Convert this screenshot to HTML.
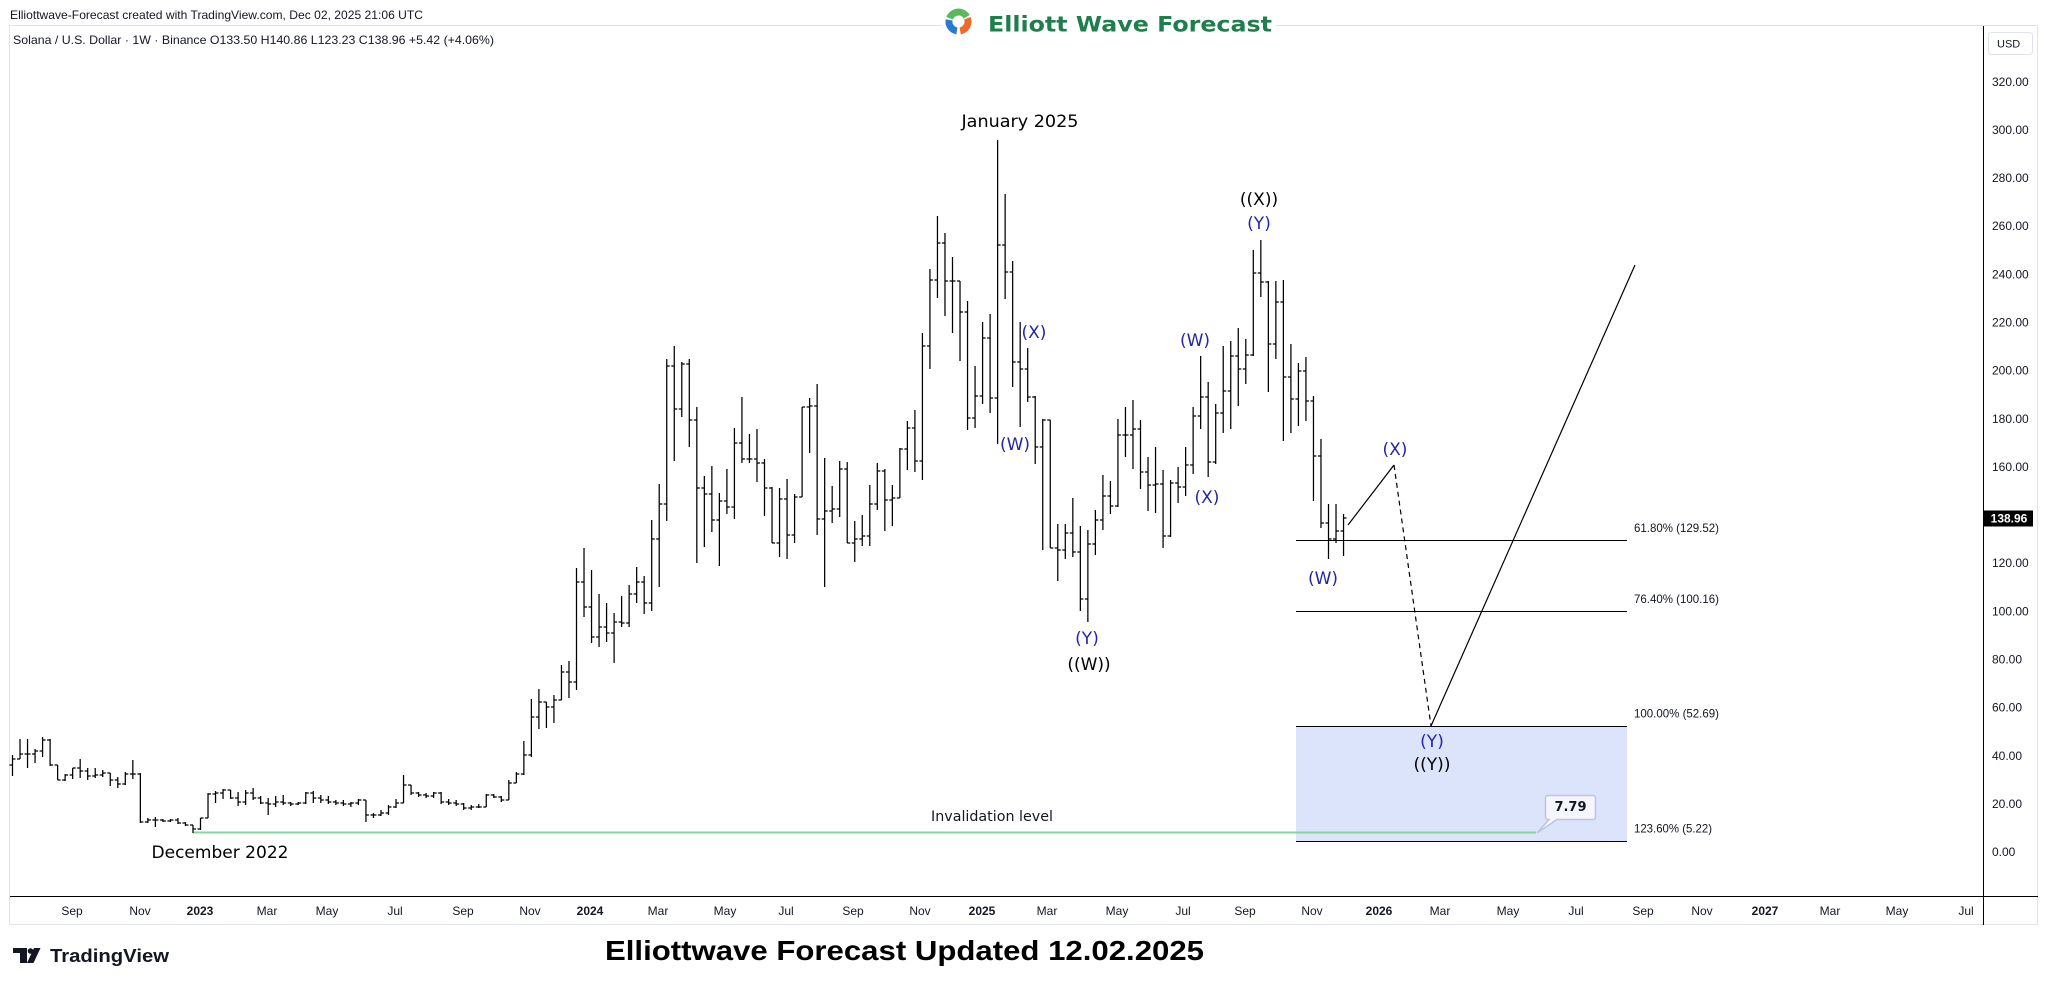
<!DOCTYPE html>
<html><head><meta charset="utf-8"><style>
html,body{margin:0;padding:0;background:#fff;}
svg{display:block;}
.pl{font-family:"Liberation Sans",sans-serif;font-size:12px;fill:#131722;}
.tl{font-family:"Liberation Sans",sans-serif;font-size:12px;fill:#131722;text-anchor:middle;}
.ty{font-weight:bold;}
.wv{font-family:"DejaVu Sans",sans-serif;font-size:17px;text-anchor:middle;dominant-baseline:central;}
.bl{fill:#2226a8;}
.bk{fill:#000;}
.fb{font-family:"Liberation Sans",sans-serif;font-size:12px;fill:#131722;dominant-baseline:central;}
</style></head><body>
<svg width="2048" height="985" viewBox="0 0 2048 985" xmlns="http://www.w3.org/2000/svg">
<rect x="0" y="0" width="2048" height="985" fill="#fff"/>
<!-- pane border -->
<rect x="9.5" y="25.5" width="2028" height="899" fill="none" stroke="#e0e3eb" stroke-width="1"/>
<!-- header texts -->
<text x="10" y="19" font-family="Liberation Sans, sans-serif" font-size="12" fill="#131722" textLength="413" lengthAdjust="spacingAndGlyphs">Elliottwave-Forecast created with TradingView.com, Dec 02, 2025 21:06 UTC</text>
<text x="13" y="44" font-family="Liberation Sans, sans-serif" font-size="12" fill="#131722" textLength="481" lengthAdjust="spacingAndGlyphs">Solana / U.S. Dollar · 1W · Binance  O133.50  H140.86  L123.23  C138.96  +5.42 (+4.06%)</text>
<!-- top logo -->
<rect x="942" y="4" width="334" height="38" fill="#fff"/>
<path d="M949.6 18.25A9.5 9.5 0 0 1 966.7 16.75" fill="none" stroke="#5cb85c" stroke-width="7"/>
<path d="M967.4 18.25A9.5 9.5 0 0 1 960.2 30.9" fill="none" stroke="#ee6a2a" stroke-width="7"/>
<path d="M956.9 30.9A9.5 9.5 0 0 1 949.1 19.85" fill="none" stroke="#2a7bd0" stroke-width="7"/>
<text x="988" y="31.5" font-family="DejaVu Sans, sans-serif" font-weight="bold" font-size="21" fill="#1e7e4e" textLength="284" lengthAdjust="spacingAndGlyphs">Elliott Wave Forecast</text>

<!-- axes -->
<line x1="1983.5" y1="26" x2="1983.5" y2="925" stroke="#000" stroke-width="1"/>
<line x1="10" y1="896.5" x2="2038" y2="896.5" stroke="#000" stroke-width="1"/>

<!-- price axis labels -->
<rect x="1988.5" y="32.5" width="44" height="22" rx="3" fill="#fff" stroke="#e0e3eb"/>
<text x="1997" y="47.5" font-family="Liberation Sans, sans-serif" font-size="11" fill="#131722">USD</text>
<g class="pl" dominant-baseline="central">
<text x="1992" y="82">320.00</text>
<text x="1992" y="130">300.00</text>
<text x="1992" y="178">280.00</text>
<text x="1992" y="226">260.00</text>
<text x="1992" y="274.5">240.00</text>
<text x="1992" y="322.5">220.00</text>
<text x="1992" y="370.5">200.00</text>
<text x="1992" y="419">180.00</text>
<text x="1992" y="467">160.00</text>
<text x="1992" y="563">120.00</text>
<text x="1992" y="611.5">100.00</text>
<text x="1992" y="659.5">80.00</text>
<text x="1992" y="707.5">60.00</text>
<text x="1992" y="756">40.00</text>
<text x="1992" y="804">20.00</text>
<text x="1992" y="852">0.00</text>
</g>
<rect x="1984" y="510.5" width="49" height="16" fill="#000"/>
<text x="2009" y="518.5" font-family="Liberation Sans, sans-serif" font-size="12" font-weight="bold" fill="#fff" text-anchor="middle" dominant-baseline="central">138.96</text>

<!-- time axis labels -->
<g class="tl" dominant-baseline="central">
<text x="72" y="911">Sep</text>
<text x="140" y="911">Nov</text>
<text x="200" y="911" class="ty">2023</text>
<text x="267" y="911">Mar</text>
<text x="327" y="911">May</text>
<text x="395" y="911">Jul</text>
<text x="463" y="911">Sep</text>
<text x="530" y="911">Nov</text>
<text x="590" y="911" class="ty">2024</text>
<text x="658" y="911">Mar</text>
<text x="725" y="911">May</text>
<text x="786" y="911">Jul</text>
<text x="853" y="911">Sep</text>
<text x="920" y="911">Nov</text>
<text x="982" y="911" class="ty">2025</text>
<text x="1047" y="911">Mar</text>
<text x="1117" y="911">May</text>
<text x="1183" y="911">Jul</text>
<text x="1245" y="911">Sep</text>
<text x="1312" y="911">Nov</text>
<text x="1379" y="911" class="ty">2026</text>
<text x="1440" y="911">Mar</text>
<text x="1508" y="911">May</text>
<text x="1576" y="911">Jul</text>
<text x="1643" y="911">Sep</text>
<text x="1702" y="911">Nov</text>
<text x="1765" y="911" class="ty">2027</text>
<text x="1830" y="911">Mar</text>
<text x="1897" y="911">May</text>
<text x="1966" y="911">Jul</text>
</g>

<!-- target box -->
<rect x="1296" y="726.5" width="331" height="115" fill="#dce4fb"/>
<!-- fib lines -->
<g stroke="#000" stroke-width="1">
<line x1="1296" y1="540.5" x2="1627" y2="540.5"/>
<line x1="1296" y1="611.5" x2="1627" y2="611.5"/>
<line x1="1296" y1="726.5" x2="1627" y2="726.5"/>
<line x1="1296" y1="841.5" x2="1627" y2="841.5"/>
</g>
<text class="fb" x="1634" y="528" textLength="85" lengthAdjust="spacingAndGlyphs">61.80% (129.52)</text>
<text class="fb" x="1634" y="599" textLength="85" lengthAdjust="spacingAndGlyphs">76.40% (100.16)</text>
<text class="fb" x="1634" y="713.5" textLength="85" lengthAdjust="spacingAndGlyphs">100.00% (52.69)</text>
<text class="fb" x="1634" y="828.5" textLength="78" lengthAdjust="spacingAndGlyphs">123.60% (5.22)</text>

<!-- invalidation line -->
<line x1="193" y1="832.5" x2="1536" y2="832.5" stroke="#86d69b" stroke-width="2"/>
<text x="992" y="817" font-family="DejaVu Sans, sans-serif" font-size="14" fill="#131722" text-anchor="middle" dominant-baseline="central" textLength="122" lengthAdjust="spacingAndGlyphs">Invalidation level</text>
<path d="M1548 795.5H1593a2.5 2.5 0 0 1 2.5 2.5V817a2.5 2.5 0 0 1-2.5 2.5H1557L1537 833L1549 819.5H1548a2.5 2.5 0 0 1-2.5-2.5V798a2.5 2.5 0 0 1 2.5-2.5Z" fill="#f4f6fb" stroke="#bcc5de" stroke-width="1.5"/>
<text x="1570.5" y="807.5" font-family="DejaVu Sans, sans-serif" font-size="13" font-weight="bold" fill="#131722" text-anchor="middle" dominant-baseline="central">7.79</text>

<!-- projection lines -->
<line x1="1348" y1="525" x2="1394" y2="465" stroke="#000" stroke-width="1.2"/>
<line x1="1394" y1="465" x2="1431" y2="726" stroke="#000" stroke-width="1.2" stroke-dasharray="5 4"/>
<line x1="1431" y1="726" x2="1635" y2="265" stroke="#000" stroke-width="1.2"/>

<!-- OHLC bars -->
<g stroke="#000" stroke-width="1.25" fill="none">
<g transform="translate(12.5 0)"><path d="M0 755V776M-3 765H0M0 759H3"/>
<g transform="translate(7.52 0)"><path d="M0 739V759M-3 759H0M0 754H3"/>
<g transform="translate(7.52 0)"><path d="M0 739V768M-3 754H0M0 754H3"/>
<g transform="translate(7.52 0)"><path d="M0 749V763M-3 754H0M0 751H3"/>
<g transform="translate(7.52 0)"><path d="M0 737V757M-3 751H0M0 740H3"/>
<g transform="translate(7.52 0)"><path d="M0 739V766M-3 740H0M0 765H3"/>
<g transform="translate(7.52 0)"><path d="M0 765V780M-3 765H0M0 780H3"/>
<g transform="translate(7.52 0)"><path d="M0 774V781M-3 780H0M0 775H3"/>
<g transform="translate(7.52 0)"><path d="M0 768V779M-3 775H0M0 768H3"/>
<g transform="translate(7.52 0)"><path d="M0 759V778M-3 768H0M0 771H3"/>
<g transform="translate(7.52 0)"><path d="M0 768V780M-3 771H0M0 776H3"/>
<g transform="translate(7.52 0)"><path d="M0 768V778M-3 776H0M0 775H3"/>
<g transform="translate(7.52 0)"><path d="M0 770V777M-3 775H0M0 773H3"/>
<g transform="translate(7.52 0)"><path d="M0 773V786M-3 773H0M0 780H3"/>
<g transform="translate(7.52 0)"><path d="M0 777V788M-3 780H0M0 784H3"/>
<g transform="translate(7.52 0)"><path d="M0 772V785M-3 784H0M0 774H3"/>
<g transform="translate(7.52 0)"><path d="M0 760V779M-3 774H0M0 774H3"/>
<g transform="translate(7.52 0)"><path d="M0 773V823M-3 774H0M0 822H3"/>
<g transform="translate(7.52 0)"><path d="M0 818V823M-3 822H0M0 820H3"/>
<g transform="translate(7.52 0)"><path d="M0 817V827M-3 820H0M0 820H3"/>
<g transform="translate(7.52 0)"><path d="M0 819V822M-3 820H0M0 821H3"/>
<g transform="translate(7.52 0)"><path d="M0 819V822M-3 821H0M0 820H3"/>
<g transform="translate(7.52 0)"><path d="M0 818V824M-3 820H0M0 823H3"/>
<g transform="translate(7.52 0)"><path d="M0 822V826M-3 823H0M0 825H3"/>
<g transform="translate(7.52 0)"><path d="M0 825V833M-3 825H0M0 829H3"/>
<g transform="translate(7.52 0)"><path d="M0 818V830M-3 829H0M0 818H3"/>
<g transform="translate(7.52 0)"><path d="M0 793V818M-3 818H0M0 794H3"/>
<g transform="translate(7.52 0)"><path d="M0 791V803M-3 794H0M0 793H3"/>
<g transform="translate(7.52 0)"><path d="M0 789V799M-3 793H0M0 790H3"/>
<g transform="translate(7.52 0)"><path d="M0 790V799M-3 790H0M0 798H3"/>
<g transform="translate(7.52 0)"><path d="M0 792V806M-3 798H0M0 802H3"/>
<g transform="translate(7.52 0)"><path d="M0 790V805M-3 802H0M0 793H3"/>
<g transform="translate(7.52 0)"><path d="M0 788V800M-3 793H0M0 798H3"/>
<g transform="translate(7.52 0)"><path d="M0 796V804M-3 798H0M0 803H3"/>
<g transform="translate(7.52 0)"><path d="M0 798V815M-3 803H0M0 804H3"/>
<g transform="translate(7.52 0)"><path d="M0 796V807M-3 804H0M0 802H3"/>
<g transform="translate(7.52 0)"><path d="M0 795V805M-3 802H0M0 803H3"/>
<g transform="translate(7.52 0)"><path d="M0 802V806M-3 803H0M0 804H3"/>
<g transform="translate(7.52 0)"><path d="M0 802V805M-3 804H0M0 803H3"/>
<g transform="translate(7.52 0)"><path d="M0 792V804M-3 803H0M0 793H3"/>
<g transform="translate(7.52 0)"><path d="M0 791V803M-3 793H0M0 798H3"/>
<g transform="translate(7.52 0)"><path d="M0 795V803M-3 798H0M0 800H3"/>
<g transform="translate(7.52 0)"><path d="M0 796V804M-3 800H0M0 802H3"/>
<g transform="translate(7.52 0)"><path d="M0 800V805M-3 802H0M0 803H3"/>
<g transform="translate(7.52 0)"><path d="M0 800V806M-3 803H0M0 804H3"/>
<g transform="translate(7.52 0)"><path d="M0 802V807M-3 804H0M0 803H3"/>
<g transform="translate(7.52 0)"><path d="M0 799V805M-3 803H0M0 800H3"/>
<g transform="translate(7.52 0)"><path d="M0 800V822M-3 800H0M0 815H3"/>
<g transform="translate(7.52 0)"><path d="M0 813V818M-3 815H0M0 815H3"/>
<g transform="translate(7.52 0)"><path d="M0 810V816M-3 815H0M0 813H3"/>
<g transform="translate(7.52 0)"><path d="M0 805V815M-3 813H0M0 807H3"/>
<g transform="translate(7.52 0)"><path d="M0 799V808M-3 807H0M0 803H3"/>
<g transform="translate(7.52 0)"><path d="M0 775V803M-3 803H0M0 785H3"/>
<g transform="translate(7.52 0)"><path d="M0 785V795M-3 785H0M0 793H3"/>
<g transform="translate(7.52 0)"><path d="M0 792V797M-3 793H0M0 795H3"/>
<g transform="translate(7.52 0)"><path d="M0 793V798M-3 795H0M0 796H3"/>
<g transform="translate(7.52 0)"><path d="M0 792V798M-3 796H0M0 793H3"/>
<g transform="translate(7.52 0)"><path d="M0 792V804M-3 793H0M0 802H3"/>
<g transform="translate(7.52 0)"><path d="M0 799V805M-3 802H0M0 803H3"/>
<g transform="translate(7.52 0)"><path d="M0 800V806M-3 803H0M0 804H3"/>
<g transform="translate(7.52 0)"><path d="M0 803V810M-3 804H0M0 808H3"/>
<g transform="translate(7.52 0)"><path d="M0 805V810M-3 808H0M0 807H3"/>
<g transform="translate(7.52 0)"><path d="M0 804V808M-3 807H0M0 807H3"/>
<g transform="translate(7.52 0)"><path d="M0 794V807M-3 807H0M0 795H3"/>
<g transform="translate(7.52 0)"><path d="M0 794V798M-3 795H0M0 797H3"/>
<g transform="translate(7.52 0)"><path d="M0 796V802M-3 797H0M0 800H3"/>
<g transform="translate(7.52 0)"><path d="M0 780V800M-3 800H0M0 783H3"/>
<g transform="translate(7.52 0)"><path d="M0 772V783M-3 783H0M0 774H3"/>
<g transform="translate(7.52 0)"><path d="M0 741V775M-3 774H0M0 755H3"/>
<g transform="translate(7.52 0)"><path d="M0 699V757M-3 755H0M0 717H3"/>
<g transform="translate(7.52 0)"><path d="M0 689V729M-3 717H0M0 702H3"/>
<g transform="translate(7.52 0)"><path d="M0 702V728M-3 702H0M0 707H3"/>
<g transform="translate(7.52 0)"><path d="M0 695V723M-3 707H0M0 700H3"/>
<g transform="translate(7.52 0)"><path d="M0 665V700M-3 700H0M0 672H3"/>
<g transform="translate(7.52 0)"><path d="M0 661V698M-3 672H0M0 682H3"/>
<g transform="translate(7.52 0)"><path d="M0 568V690M-3 682H0M0 582H3"/>
<g transform="translate(7.52 0)"><path d="M0 548V617M-3 582H0M0 607H3"/>
<g transform="translate(7.52 0)"><path d="M0 570V643M-3 607H0M0 637H3"/>
<g transform="translate(7.52 0)"><path d="M0 594V647M-3 637H0M0 627H3"/>
<g transform="translate(7.52 0)"><path d="M0 603V642M-3 627H0M0 633H3"/>
<g transform="translate(7.52 0)"><path d="M0 613V663M-3 633H0M0 622H3"/>
<g transform="translate(7.52 0)"><path d="M0 596V627M-3 622H0M0 623H3"/>
<g transform="translate(7.52 0)"><path d="M0 585V627M-3 623H0M0 594H3"/>
<g transform="translate(7.52 0)"><path d="M0 567V603M-3 594H0M0 582H3"/>
<g transform="translate(7.52 0)"><path d="M0 576V614M-3 582H0M0 603H3"/>
<g transform="translate(7.52 0)"><path d="M0 520V611M-3 603H0M0 539H3"/>
<g transform="translate(7.52 0)"><path d="M0 484V587M-3 539H0M0 504H3"/>
<g transform="translate(7.52 0)"><path d="M0 359V521M-3 504H0M0 366H3"/>
<g transform="translate(7.52 0)"><path d="M0 346V461M-3 366H0M0 409H3"/>
<g transform="translate(7.52 0)"><path d="M0 362V417M-3 409H0M0 364H3"/>
<g transform="translate(7.52 0)"><path d="M0 359V447M-3 364H0M0 420H3"/>
<g transform="translate(7.52 0)"><path d="M0 407V563M-3 420H0M0 488H3"/>
<g transform="translate(7.52 0)"><path d="M0 476V547M-3 488H0M0 494H3"/>
<g transform="translate(7.52 0)"><path d="M0 466V532M-3 494H0M0 520H3"/>
<g transform="translate(7.52 0)"><path d="M0 493V566M-3 520H0M0 501H3"/>
<g transform="translate(7.52 0)"><path d="M0 469V514M-3 501H0M0 507H3"/>
<g transform="translate(7.52 0)"><path d="M0 428V519M-3 507H0M0 443H3"/>
<g transform="translate(7.52 0)"><path d="M0 397V463M-3 443H0M0 459H3"/>
<g transform="translate(7.52 0)"><path d="M0 434V463M-3 459H0M0 459H3"/>
<g transform="translate(7.52 0)"><path d="M0 429V482M-3 459H0M0 463H3"/>
<g transform="translate(7.52 0)"><path d="M0 459V516M-3 463H0M0 488H3"/>
<g transform="translate(7.52 0)"><path d="M0 487V543M-3 488H0M0 543H3"/>
<g transform="translate(7.52 0)"><path d="M0 488V557M-3 543H0M0 499H3"/>
<g transform="translate(7.52 0)"><path d="M0 479V559M-3 499H0M0 535H3"/>
<g transform="translate(7.52 0)"><path d="M0 494V543M-3 535H0M0 497H3"/>
<g transform="translate(7.52 0)"><path d="M0 407V497M-3 497H0M0 407H3"/>
<g transform="translate(7.52 0)"><path d="M0 398V453M-3 407H0M0 406H3"/>
<g transform="translate(7.52 0)"><path d="M0 384V535M-3 406H0M0 519H3"/>
<g transform="translate(7.52 0)"><path d="M0 458V587M-3 519H0M0 511H3"/>
<g transform="translate(7.52 0)"><path d="M0 486V523M-3 511H0M0 509H3"/>
<g transform="translate(7.52 0)"><path d="M0 461V517M-3 509H0M0 469H3"/>
<g transform="translate(7.52 0)"><path d="M0 462V543M-3 469H0M0 543H3"/>
<g transform="translate(7.52 0)"><path d="M0 521V562M-3 543H0M0 539H3"/>
<g transform="translate(7.52 0)"><path d="M0 515V546M-3 539H0M0 536H3"/>
<g transform="translate(7.52 0)"><path d="M0 485V546M-3 536H0M0 504H3"/>
<g transform="translate(7.52 0)"><path d="M0 463V510M-3 504H0M0 471H3"/>
<g transform="translate(7.52 0)"><path d="M0 469V531M-3 471H0M0 500H3"/>
<g transform="translate(7.52 0)"><path d="M0 485V526M-3 500H0M0 498H3"/>
<g transform="translate(7.52 0)"><path d="M0 448V498M-3 498H0M0 449H3"/>
<g transform="translate(7.52 0)"><path d="M0 421V470M-3 449H0M0 428H3"/>
<g transform="translate(7.52 0)"><path d="M0 410V472M-3 428H0M0 461H3"/>
<g transform="translate(7.52 0)"><path d="M0 333V480M-3 461H0M0 346H3"/>
<g transform="translate(7.52 0)"><path d="M0 269V369M-3 346H0M0 280H3"/>
<g transform="translate(7.52 0)"><path d="M0 216V298M-3 280H0M0 243H3"/>
<g transform="translate(7.52 0)"><path d="M0 233V316M-3 243H0M0 281H3"/>
<g transform="translate(7.52 0)"><path d="M0 257V333M-3 281H0M0 281H3"/>
<g transform="translate(7.52 0)"><path d="M0 281V361M-3 281H0M0 312H3"/>
<g transform="translate(7.52 0)"><path d="M0 301V430M-3 312H0M0 418H3"/>
<g transform="translate(7.52 0)"><path d="M0 366V428M-3 418H0M0 396H3"/>
<g transform="translate(7.52 0)"><path d="M0 322V404M-3 396H0M0 338H3"/>
<g transform="translate(7.52 0)"><path d="M0 314V413M-3 338H0M0 398H3"/>
<g transform="translate(7.52 0)"><path d="M0 140V444M-3 398H0M0 245H3"/>
<g transform="translate(7.52 0)"><path d="M0 194V299M-3 245H0M0 272H3"/>
<g transform="translate(7.52 0)"><path d="M0 261V387M-3 272H0M0 362H3"/>
<g transform="translate(7.52 0)"><path d="M0 322V427M-3 362H0M0 369H3"/>
<g transform="translate(7.52 0)"><path d="M0 348V402M-3 369H0M0 397H3"/>
<g transform="translate(7.52 0)"><path d="M0 396V464M-3 397H0M0 447H3"/>
<g transform="translate(7.52 0)"><path d="M0 419V550M-3 447H0M0 420H3"/>
<g transform="translate(7.52 0)"><path d="M0 420V548M-3 420H0M0 548H3"/>
<g transform="translate(7.52 0)"><path d="M0 524V581M-3 548H0M0 550H3"/>
<g transform="translate(7.52 0)"><path d="M0 524V559M-3 550H0M0 533H3"/>
<g transform="translate(7.52 0)"><path d="M0 498V557M-3 533H0M0 552H3"/>
<g transform="translate(7.52 0)"><path d="M0 526V611M-3 552H0M0 599H3"/>
<g transform="translate(7.52 0)"><path d="M0 530V622M-3 599H0M0 544H3"/>
<g transform="translate(7.52 0)"><path d="M0 510V555M-3 544H0M0 520H3"/>
<g transform="translate(7.52 0)"><path d="M0 475V530M-3 520H0M0 496H3"/>
<g transform="translate(7.52 0)"><path d="M0 481V514M-3 496H0M0 506H3"/>
<g transform="translate(7.52 0)"><path d="M0 419V507M-3 506H0M0 435H3"/>
<g transform="translate(7.52 0)"><path d="M0 407V457M-3 435H0M0 435H3"/>
<g transform="translate(7.52 0)"><path d="M0 400V469M-3 435H0M0 429H3"/>
<g transform="translate(7.52 0)"><path d="M0 420V489M-3 429H0M0 472H3"/>
<g transform="translate(7.52 0)"><path d="M0 457V511M-3 472H0M0 485H3"/>
<g transform="translate(7.52 0)"><path d="M0 447V513M-3 485H0M0 484H3"/>
<g transform="translate(7.52 0)"><path d="M0 470V548M-3 484H0M0 536H3"/>
<g transform="translate(7.52 0)"><path d="M0 480V537M-3 536H0M0 483H3"/>
<g transform="translate(7.52 0)"><path d="M0 467V503M-3 483H0M0 487H3"/>
<g transform="translate(7.52 0)"><path d="M0 447V496M-3 487H0M0 465H3"/>
<g transform="translate(7.52 0)"><path d="M0 407V474M-3 465H0M0 416H3"/>
<g transform="translate(7.52 0)"><path d="M0 356V429M-3 416H0M0 397H3"/>
<g transform="translate(7.52 0)"><path d="M0 382V477M-3 397H0M0 462H3"/>
<g transform="translate(7.52 0)"><path d="M0 404V464M-3 462H0M0 413H3"/>
<g transform="translate(7.52 0)"><path d="M0 346V433M-3 413H0M0 391H3"/>
<g transform="translate(7.52 0)"><path d="M0 341V429M-3 391H0M0 356H3"/>
<g transform="translate(7.52 0)"><path d="M0 328V406M-3 356H0M0 369H3"/>
<g transform="translate(7.52 0)"><path d="M0 339V384M-3 369H0M0 355H3"/>
<g transform="translate(7.52 0)"><path d="M0 250V356M-3 355H0M0 273H3"/>
<g transform="translate(7.52 0)"><path d="M0 240V297M-3 273H0M0 282H3"/>
<g transform="translate(7.52 0)"><path d="M0 281V392M-3 282H0M0 344H3"/>
<g transform="translate(7.52 0)"><path d="M0 281V359M-3 344H0M0 302H3"/>
<g transform="translate(7.52 0)"><path d="M0 280V441M-3 302H0M0 377H3"/>
<g transform="translate(7.52 0)"><path d="M0 344V433M-3 377H0M0 399H3"/>
<g transform="translate(7.52 0)"><path d="M0 363V426M-3 399H0M0 371H3"/>
<g transform="translate(7.52 0)"><path d="M0 357V421M-3 371H0M0 401H3"/>
<g transform="translate(7.52 0)"><path d="M0 396V501M-3 401H0M0 456H3"/>
<g transform="translate(7.52 0)"><path d="M0 439V528M-3 456H0M0 523H3"/>
<g transform="translate(7.52 0)"><path d="M0 504V559M-3 523H0M0 539H3"/>
<g transform="translate(7.52 0)"><path d="M0 504V543M-3 539H0M0 531H3"/>
<g transform="translate(7.52 0)"><path d="M0 514V556M-3 531H0M0 518H3"/>
</g></g></g></g></g></g></g></g></g></g>
</g></g></g></g></g></g></g></g></g></g>
</g></g></g></g></g></g></g></g></g></g>
</g></g></g></g></g></g></g></g></g></g>
</g></g></g></g></g></g></g></g></g></g>
</g></g></g></g></g></g></g></g></g></g>
</g></g></g></g></g></g></g></g></g></g>
</g></g></g></g></g></g></g></g></g></g>
</g></g></g></g></g></g></g></g></g></g>
</g></g></g></g></g></g></g></g></g></g>
</g></g></g></g></g></g></g></g></g></g>
</g></g></g></g></g></g></g></g></g></g>
</g></g></g></g></g></g></g></g></g></g>
</g></g></g></g></g></g></g></g></g></g>
</g></g></g></g></g></g></g></g></g></g>
</g></g></g></g></g></g></g></g></g></g>
</g></g></g></g></g></g></g></g></g></g>
</g></g></g></g></g></g></g></g>
</g>

<!-- annotations -->
<text x="1020" y="122" font-family="DejaVu Sans, sans-serif" font-size="17" fill="#000" text-anchor="middle" dominant-baseline="central" textLength="117" lengthAdjust="spacingAndGlyphs">January 2025</text>
<text x="220" y="853" font-family="DejaVu Sans, sans-serif" font-size="17" fill="#000" text-anchor="middle" dominant-baseline="central" textLength="137" lengthAdjust="spacingAndGlyphs">December 2022</text>
<text class="wv bl" x="1034" y="333">(X)</text>
<text class="wv bl" x="1015" y="445">(W)</text>
<text class="wv bl" x="1087" y="639">(Y)</text>
<text class="wv bk" x="1089" y="665">((W))</text>
<text class="wv bk" x="1259" y="200">((X))</text>
<text class="wv bl" x="1259" y="224">(Y)</text>
<text class="wv bl" x="1195" y="341">(W)</text>
<text class="wv bl" x="1207" y="498">(X)</text>
<text class="wv bl" x="1323" y="579">(W)</text>
<text class="wv bl" x="1395" y="450">(X)</text>
<text class="wv bl" x="1432" y="742">(Y)</text>
<text class="wv bk" x="1432" y="765">((Y))</text>

<!-- footer -->
<g fill="#131722">
<rect x="13" y="948" width="14" height="5"/>
<rect x="20" y="948" width="7" height="15"/>
<circle cx="30.5" cy="951" r="2.8"/>
<polygon points="34,948 40.5,948 33.5,963 27,963"/>
</g>
<text x="50" y="962" font-family="Liberation Sans, sans-serif" font-weight="bold" font-size="18" fill="#131722" textLength="119" lengthAdjust="spacingAndGlyphs">TradingView</text>
<text x="605" y="960" font-family="Liberation Sans, sans-serif" font-weight="bold" font-size="28" fill="#000" textLength="599" lengthAdjust="spacingAndGlyphs">Elliottwave Forecast Updated 12.02.2025</text>
</svg>
</body></html>
